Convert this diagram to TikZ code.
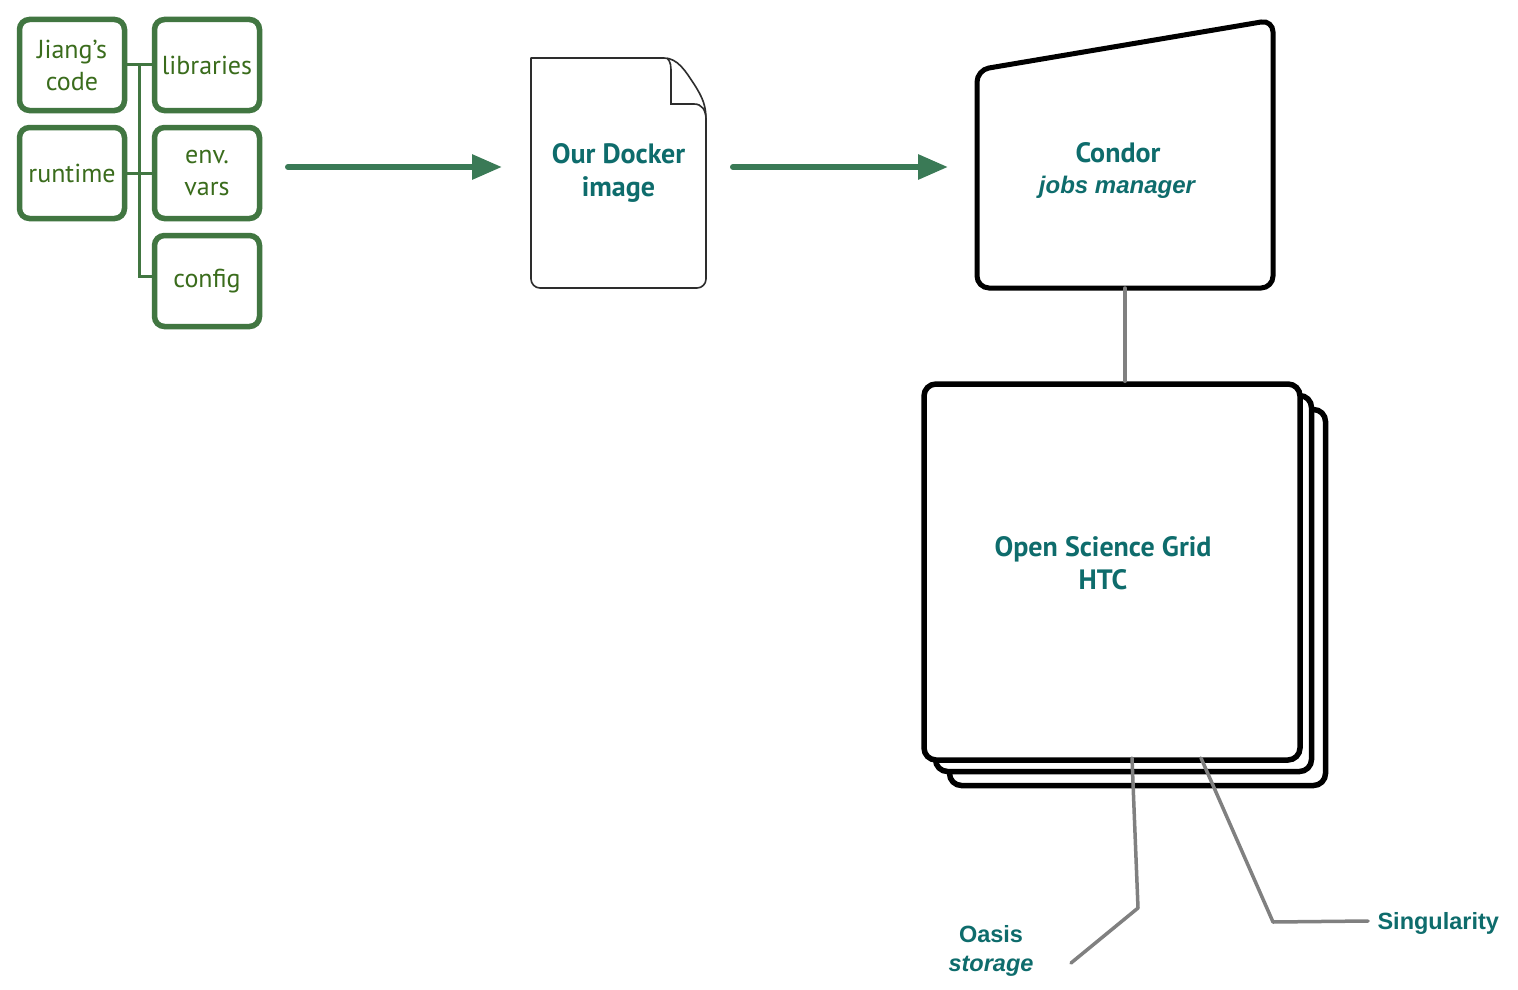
\documentclass[tikz,border=0pt]{standalone}
\usepackage{fontspec}
\setmainfont{PT Sans}
\newfontfamily\hv{Liberation Sans}
\usetikzlibrary{arrows.meta,calc}
\definecolor{gboxc}{RGB}{65,118,65}
\definecolor{gtext}{RGB}{58,108,28}
\definecolor{arrc}{RGB}{58,122,86}
\definecolor{teal}{RGB}{14,108,108}
\definecolor{grayl}{RGB}{128,128,128}
\definecolor{docl}{RGB}{45,45,45}
\tikzset{
  gbox/.style={draw=gboxc, line width=5.5pt, rounded corners=10pt, minimum width=105pt, minimum height=91pt, inner sep=0pt, align=center, text=gtext, font=\fontsize{26}{32}\selectfont},
  gline/.style={draw=gboxc, line width=3pt},
  garrow/.style={draw=arrc, line width=6pt, line cap=round, -{Triangle[length=30pt,width=24pt]}},
  osgbox/.style={draw=black, fill=white, line width=5.5pt, rounded corners=12pt, minimum width=376pt, minimum height=376pt, inner sep=0pt},
  ghost/.style={inner sep=0pt, outer sep=0pt},
  tealbig/.style={text=teal, align=center, font=\bfseries\fontsize{28}{33}\selectfont},
  hvlabel/.style={text=teal, align=center, font=\hv\bfseries\fontsize{23.5}{29}\selectfont},
  grayline/.style={draw=grayl, line width=3.5pt, line cap=round, line join=round},
}
\begin{document}
\begin{tikzpicture}[x=1pt,y=-1pt]
\useasboundingbox[fill=white] (0,0) rectangle (1518,990);

% green boxes
\node[gbox] (jiang) at (72,65) {Jiang’s\\code};
\node[gbox] (libs) at (207,65) {libraries};
\node[gbox] (runtime) at (72,173) {runtime};
\node[gbox] (env) at (207,173) {env.\\vars};
\node[gbox] (config) at (207,281) {config};
\draw[gline] (jiang.east) -- (libs.west);
\draw[gline] (runtime.east) -- (env.west);
\draw[gline] ($(jiang.east)!0.5!(libs.west)$) |- ([yshift=5pt]config.west);

% docker image document
\node[ghost, minimum width=175pt, minimum height=230pt, tealbig] (docker) at (618.5,173) {Our Docker\\image};
\draw[docl, line width=1.6pt, line join=round]
  (664,58) -- (531,58) [rounded corners=9pt] -- (531,288) -- (706,288) [sharp corners] -- (706,118);
\draw[docl, line width=1.6pt]
  (664,58) .. controls (678,58) and (686,72) .. (694,84) .. controls (703,98) and (706,106) .. (706,120);
\draw[docl, line width=1.6pt]
  (667,58) .. controls (671,62) and (671,66) .. (671,74) -- (671,104) -- (694,104) .. controls (702,104) and (706,110) .. (706,120);

% condor
\node[ghost, minimum width=296pt, minimum height=218pt] (condor) at (1125,179) {};
\draw[black, line width=5pt, rounded corners=12pt]
  (977,70) -- (1273,20) -- (1273,288) -- (977,288) -- cycle;
\node[text=teal, font=\bfseries\fontsize{28}{33}\selectfont] (condortext) at (1118,153) {Condor};
\node[text=teal, font=\hv\bfseries\itshape\fontsize{24}{28}\selectfont] (jobsmgr) at (1117,187) {jobs manager};

% arrows
\coordinate (a1s) at (288,167);
\coordinate (a2s) at (733,167);
\draw[garrow] (a1s) -- ([xshift=-29pt]docker.west |- a1s);
\draw[garrow] (a2s) -- (948,167);

% OSG stack
\node[osgbox] (osg3) at (1137.5,597.5) {};
\node[osgbox] (osg2) at (1123.5,583.5) {};
\node[osgbox] (osg1) at (1112,572) {};
\node[tealbig] (osgtext) at (1103,563) {Open Science Grid\\HTC};

\draw[grayline] (condor.south) -- (condor.south |- osg1.north);

% labels
\node[hvlabel] (oasis) at (991,951) {Oasis\\{\itshape storage}};
\node[hvlabel, anchor=west] (sing) at (1374,923) {Singularity};
\coordinate (oasisTop) at (1132,758);
\coordinate (oasisBend) at (1138,908);
\coordinate (oasisEnd) at (1071,963);
\coordinate (singTop) at (1201,758);
\coordinate (singBend) at (1273,922);
\draw[grayline] (oasisTop) -- (oasisBend) -- (oasisEnd);
\draw[grayline] (singTop) -- (singBend) -- (1368,921);
\end{tikzpicture}
\end{document}
